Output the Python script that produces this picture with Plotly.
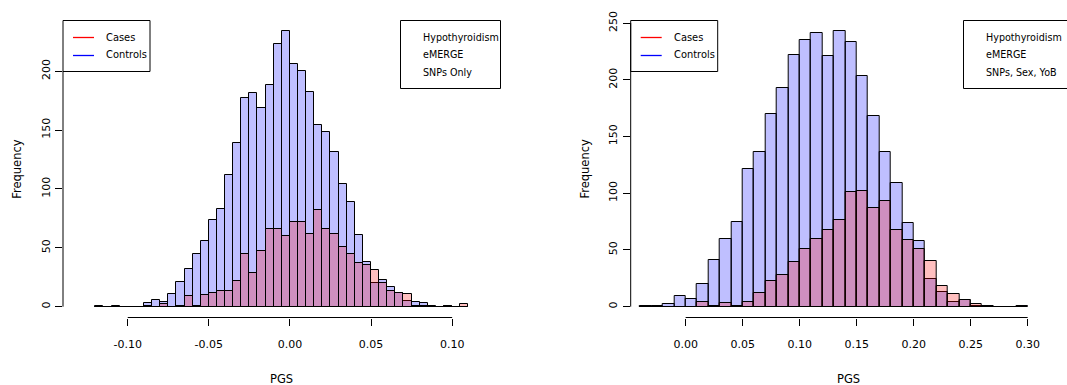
import plotly.graph_objects as go

W, H = 1067, 385

# ---------------- data ----------------
left_bin_start = -0.12
left_bin_width = 0.005
left_controls = [1, 0, 1, 0, 0, 0, 3, 6, 4, 11, 21, 32, 45, 56, 74, 83, 112, 139, 177, 181, 169, 188,
                 223, 234, 206, 200, 182, 154, 148, 131, 104, 89, 61, 38, 20, 23, 17, 12, 5, 4, 3, 1,
                 0, 1, 0, 0]
left_cases = [0, 0, 0, 0, 0, 0, 1, 0, 2, 0, 1, 9, 1, 10, 12, 13, 13, 22, 45, 29, 47, 66,
              66, 60, 72, 72, 62, 82, 66, 62, 51, 45, 37, 35, 31, 20, 13, 12, 11, 1, 1, 0,
              0, 1, 0, 2]

right_bin_start = -0.04
right_bin_width = 0.01
right_controls = [1, 1, 2, 9, 7, 20, 41, 60, 75, 121, 136, 170, 193, 222, 235, 241, 221, 243,
                  233, 203, 168, 136, 109, 74, 58, 24, 13, 4, 6, 1, 1, 0, 0, 1]
right_cases = [0, 0, 0, 0, 0, 4, 1, 3, 1, 4, 12, 23, 28, 39, 51, 60, 68, 76,
               101, 102, 87, 93, 68, 59, 51, 40, 18, 11, 6, 2, 0, 0, 0, 1]

left_xticks = [-0.10, -0.05, 0.00, 0.05, 0.10]
left_xticklabels = ["-0.10", "-0.05", "0.00", "0.05", "0.10"]
right_xticks = [0.00, 0.05, 0.10, 0.15, 0.20, 0.25, 0.30]
right_xticklabels = ["0.00", "0.05", "0.10", "0.15", "0.20", "0.25", "0.30"]
left_yticks = [0, 50, 100, 150, 200]
right_yticks = [0, 50, 100, 150, 200, 250]

legend_labels = ["Cases", "Controls"]
legend_colors = ["#ff0000", "#0000ff"]
left_note = ["Hypothyroidism", "eMERGE", "SNPs Only"]
right_note = ["Hypothyroidism", "eMERGE", "SNPs, Sex, YoB"]
x_title = "PGS"
y_title = "Frequency"

# ---------------- styling ----------------
FONT = "DejaVu Sans, sans-serif"
FS_TICK = 11
FS_TITLE = 11.5
FS_LEG = 9.9
FS_NOTE = 9.6
CTRL_FILL = "rgba(0,0,255,0.25)"
CASE_FILL = "rgba(255,0,0,0.25)"


def px(x):
    return x / W


def py(y):
    return 1 - y / H


def centers(start, width, n):
    return [start + width * (i + 0.5) for i in range(n)]


fig = go.Figure()

panels = [
    dict(xa="x", ya="y", start=left_bin_start, width=left_bin_width,
         controls=left_controls, cases=left_cases),
    dict(xa="x2", ya="y2", start=right_bin_start, width=right_bin_width,
         controls=right_controls, cases=right_cases),
]
for p in panels:
    xs = centers(p["start"], p["width"], len(p["controls"]))
    fig.add_trace(go.Bar(x=xs, y=p["controls"], width=p["width"], xaxis=p["xa"], yaxis=p["ya"],
                         marker=dict(color=CTRL_FILL, line=dict(color="black", width=1)),
                         showlegend=False, hoverinfo="skip"))
    xs = centers(p["start"], p["width"], len(p["cases"]))
    fig.add_trace(go.Bar(x=xs, y=p["cases"], width=p["width"], xaxis=p["xa"], yaxis=p["ya"],
                         marker=dict(color=CASE_FILL, line=dict(color="black", width=1)),
                         showlegend=False, hoverinfo="skip"))

# plot regions (pixels)
L = dict(x0=63, x1=500)
R = dict(x0=630.7, x1=1067)
TOP, BOT = 20, 317.7

axis_common = dict(showgrid=False, zeroline=False, showline=False, ticks="outside",
                   ticklen=7, tickwidth=1, tickcolor="black", automargin=False,
                   tickfont=dict(family=FONT, size=FS_TICK, color="black"))

fig.update_layout(
    width=W, height=H, margin=dict(l=0, r=0, t=0, b=0, pad=0),
    paper_bgcolor="white", plot_bgcolor="white", barmode="overlay", bargap=0,
    showlegend=False,
    font=dict(family=FONT, size=FS_TICK, color="black"),
    xaxis=dict(domain=[px(L["x0"]), px(L["x1"])], range=[-0.1399, 0.1295], anchor="y",
               tickmode="array", tickvals=left_xticks, ticktext=left_xticklabels,
               ticklabelstandoff=9, **axis_common),
    yaxis=dict(domain=[py(BOT), py(TOP)], range=[-9.36, 243.4], anchor="x",
               tickmode="array", tickvals=left_yticks, ticktext=[str(v) for v in left_yticks],
               tickangle=-90, ticklabelstandoff=1, **axis_common),
    xaxis2=dict(domain=[px(R["x0"]), px(R["x1"])], range=[-0.0482, 0.3345], anchor="y2",
                tickmode="array", tickvals=right_xticks, ticktext=right_xticklabels,
                ticklabelstandoff=9, **axis_common),
    yaxis2=dict(domain=[py(BOT), py(TOP)], range=[-9.72, 252.7], anchor="x2",
                tickmode="array", tickvals=right_yticks, ticktext=[str(v) for v in right_yticks],
                tickangle=-90, ticklabelstandoff=1, **axis_common),
)

shapes = []
annotations = []
line_style = dict(color="black", width=1)

for reg, xa, ya, xt, yt in [(L, "x", "y", left_xticks, left_yticks),
                            (R, "x2", "y2", right_xticks, right_yticks)]:
    # R-style axis lines spanning first to last tick
    shapes.append(dict(type="line", xref=xa, yref="paper", x0=xt[0], x1=xt[-1],
                       y0=py(317.5), y1=py(317.5), line=line_style))
    shapes.append(dict(type="line", xref="paper", yref=ya, x0=px(reg["x0"]), x1=px(reg["x0"]),
                       y0=yt[0], y1=yt[-1], line=line_style))
    # axis titles
    annotations.append(dict(text=x_title, xref="paper", yref="paper",
                            x=px((reg["x0"] + reg["x1"]) / 2), y=py(379),
                            showarrow=False, xanchor="center", yanchor="middle",
                            font=dict(family=FONT, size=FS_TITLE)))
    annotations.append(dict(text=y_title, xref="paper", yref="paper",
                            x=px(reg["x0"] - 46), y=py((TOP + BOT) / 2), textangle=-90,
                            showarrow=False, xanchor="center", yanchor="middle",
                            font=dict(family=FONT, size=FS_TITLE)))
    # legend box with line keys
    shapes.append(dict(type="rect", xref="paper", yref="paper", layer="below",
                       x0=px(reg["x0"]), x1=px(reg["x0"] + 87), y0=py(20.5), y1=py(71.5),
                       line=line_style, fillcolor="white"))
    for i, (lab, col) in enumerate(zip(legend_labels, legend_colors)):
        yy = 37.5 + i * 18
        shapes.append(dict(type="line", xref="paper", yref="paper", layer="above",
                           x0=px(reg["x0"] + 10), x1=px(reg["x0"] + 31), y0=py(yy), y1=py(yy),
                           line=dict(color=col, width=1.3)))
        annotations.append(dict(text=lab, xref="paper", yref="paper",
                                x=px(reg["x0"] + 41), y=py(yy - 0.5), showarrow=False,
                                xanchor="left", yanchor="middle",
                                font=dict(family=FONT, size=FS_LEG)))

# note boxes (top right)
for bx0, bx1, note in [(400.5, 500.5, left_note), (963.5, 1068, right_note)]:
    shapes.append(dict(type="rect", xref="paper", yref="paper",
                       x0=px(bx0), x1=px(bx1), y0=py(20.5), y1=py(88.5),
                       line=line_style, fillcolor="white"))
    for i, t in enumerate(note):
        annotations.append(dict(text=t, xref="paper", yref="paper",
                                x=px(bx0 + 20), y=py(37.3 + i * 17.4), showarrow=False,
                                xanchor="left", yanchor="middle",
                                font=dict(family=FONT, size=FS_NOTE)))

fig.update_layout(shapes=shapes, annotations=annotations)
fig.write_html("out.html")
